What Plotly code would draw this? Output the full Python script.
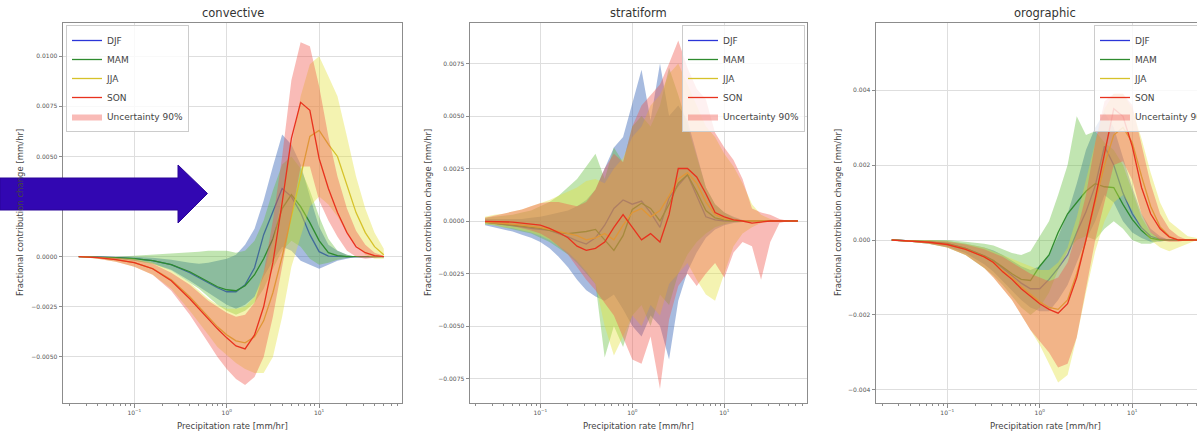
import plotly.graph_objects as go

# ---------------- DATA (values in 1e-3 mm/hr) ----------------
seasons = ["DJF", "MAM", "JJA", "SON"]
panel_titles = ["convective", "stratiform", "orographic"]
x_label = "Precipitation rate [mm/hr]"
y_label = "Fractional contribution change [mm/hr]"
x_tick_vals = [0.1, 1, 10]
x_tick_text = ["10<sup>−1</sup>", "10<sup>0</sup>", "10<sup>1</sup>"]
band_label = "Uncertainty 90%"

# convective
conv_x = [0.025, 0.04, 0.063, 0.1, 0.158, 0.251, 0.398, 0.501, 0.631, 0.794, 1.0, 1.26, 1.58, 2.0,
          2.51, 3.16, 3.98, 5.01, 6.31, 7.94, 10.0, 12.6, 15.8, 20.0, 25.1, 31.6, 39.8, 50.1]
conv_djf = [0, -0.02, -0.05, -0.1, -0.2, -0.4, -0.8, -1.05, -1.3, -1.55, -1.75, -1.75, -1.4, -0.55,
            1.1, 2.3, 3.4, 3.0, 2.2, 1.1, 0.25, 0.03, 0, 0, 0, 0, 0, 0]
conv_djf_lo = [0, -0.05, -0.1, -0.2, -0.35, -0.65, -1.2, -1.5, -1.8, -2.1, -2.4, -2.6, -2.4, -2.0,
               -1.0, -0.2, 0.5, 0.3, -0.2, -0.4, -0.6, -0.4, -0.2, -0.1, 0, 0, 0, 0]
conv_djf_hi = [0, 0, 0, 0, -0.05, -0.15, -0.3, -0.35, -0.3, -0.2, -0.1, 0.1, 0.6, 1.4,
               2.8, 4.5, 6.1, 5.6, 4.6, 3.0, 1.5, 0.6, 0.3, 0.1, 0, 0, 0, 0]
conv_mam = [0, -0.02, -0.05, -0.1, -0.2, -0.4, -0.75, -1.0, -1.25, -1.5, -1.65, -1.7, -1.45, -0.9,
            -0.1, 0.9, 2.4, 3.1, 2.5, 1.7, 0.8, 0.2, 0.05, 0, 0, 0, 0, 0]
conv_mam_lo = [0, -0.04, -0.1, -0.2, -0.35, -0.7, -1.3, -1.6, -2.0, -2.4, -2.7, -2.9, -2.7, -2.3,
               -1.6, -0.6, 0.3, 0.8, 0.5, -0.1, -0.4, -0.3, -0.15, -0.05, 0, 0, 0, 0]
conv_mam_hi = [0, 0, 0, 0.05, 0.1, 0.15, 0.2, 0.25, 0.3, 0.3, 0.3, 0.2, 0.3, 0.8,
               1.8, 3.3, 4.6, 5.0, 4.4, 3.3, 2.0, 0.9, 0.3, 0.1, 0, 0, 0, 0]
conv_jja = [0, -0.05, -0.15, -0.3, -0.6, -1.15, -2.0, -2.5, -3.0, -3.5, -3.9, -4.2, -4.3, -4.0,
            -3.2, -1.8, 0.0, 2.0, 4.0, 6.0, 6.3, 5.6, 5.0, 3.6, 2.2, 1.2, 0.5, 0.1]
conv_jja_lo = [0, -0.1, -0.25, -0.5, -0.9, -1.6, -2.7, -3.3, -3.9, -4.5, -4.9, -5.3, -5.6, -5.8,
               -5.8, -5.0, -3.0, -0.5, 1.0, 2.5, 3.0, 2.6, 2.0, 1.2, 0.6, 0.1, -0.1, -0.1]
conv_jja_hi = [0, 0, -0.05, -0.1, -0.3, -0.7, -1.3, -1.7, -2.1, -2.4, -2.6, -2.6, -2.5, -2.0,
               -0.8, 0.8, 3.0, 5.5, 8.0, 9.6, 10.0, 9.0, 8.0, 6.0, 4.0, 2.4, 1.2, 0.4]
conv_son = [0, -0.05, -0.15, -0.3, -0.6, -1.2, -2.1, -2.6, -3.15, -3.6, -4.05, -4.45, -4.6, -3.9,
            -2.5, -0.3, 2.7, 5.9, 7.7, 7.3, 4.9, 3.4, 2.2, 1.2, 0.5, 0.2, 0.05, 0]
conv_son_lo = [0, -0.1, -0.25, -0.5, -0.9, -1.7, -2.9, -3.6, -4.3, -5.0, -5.6, -6.1, -6.4, -6.0,
               -5.0, -3.0, -0.5, 2.0, 4.5, 4.5, 2.8, 1.8, 1.0, 0.3, 0.0, -0.1, -0.05, 0]
conv_son_hi = [0, 0, -0.05, -0.15, -0.35, -0.8, -1.4, -1.8, -2.2, -2.5, -2.8, -3.0, -2.9, -2.3,
               -0.8, 1.8, 5.0, 8.8, 10.7, 10.5, 8.5, 6.0, 4.0, 2.4, 1.3, 0.6, 0.2, 0.05]

# stratiform
strat_x = [0.0251, 0.0316, 0.0398, 0.0501, 0.0631, 0.0794, 0.1, 0.126, 0.158, 0.2, 0.251, 0.316,
           0.398, 0.501, 0.631, 0.794, 1.0, 1.26, 1.58, 2.0, 2.51, 3.16, 3.98, 5.01, 6.31, 7.94,
           10.0, 12.6, 15.8, 20.0, 25.1, 31.6, 39.8, 50.1, 63.1]
strat_djf = [-0.05, -0.1, -0.15, -0.2, -0.28, -0.35, -0.4, -0.45, -0.6, -0.75,
             -0.95, -1.1, -0.8, -0.2, 0.6, 1.0, 0.8, 0.95, 0.4, -0.3,
             1.1, 1.7, 2.2, 1.2, 0.2, 0.05, 0, 0, 0, 0,
             0, 0, 0, 0, 0]
strat_djf_lo = [-0.2, -0.3, -0.4, -0.5, -0.65, -0.8, -1.0, -1.3, -1.7, -2.2,
                -2.8, -3.3, -3.6, -3.8, -3.5, -4.2, -5.0, -5.5, -4.5, -5.0,
                -6.6, -3.8, -2.4, -1.5, -0.8, -0.4, -0.2, -0.1, -0.05, 0,
                0, 0, 0, 0, 0]
strat_djf_hi = [0.1, 0.1, 0.1, 0.1, 0.1, 0.15, 0.2, 0.3, 0.4, 0.5,
                0.7, 1.0, 1.5, 2.5, 3.5, 4.0, 5.6, 7.2, 4.8, 7.5,
                5.0, 5.5, 4.8, 3.2, 1.6, 0.8, 0.4, 0.2, 0.05, 0,
                0, 0, 0, 0, 0]
strat_mam = [-0.05, -0.1, -0.12, -0.18, -0.25, -0.3, -0.35, -0.45, -0.55, -0.6,
             -0.55, -0.5, -0.4, -0.9, -1.4, -0.7, 0.55, 0.85, 0.6, 0.0,
             0.8, 1.8, 2.2, 1.4, 0.5, 0.15, 0.05, 0, 0, 0,
             0, 0, 0, 0, 0]
strat_mam_lo = [-0.15, -0.2, -0.3, -0.4, -0.5, -0.6, -0.8, -1.0, -1.3, -1.6,
                -2.0, -2.5, -3.0, -6.5, -5.0, -6.0, -4.5, -4.0, -5.0, -3.5,
                -4.0, -2.5, -1.6, -1.0, -0.6, -0.3, -0.15, -0.05, 0, 0,
                0, 0, 0, 0, 0]
strat_mam_hi = [0.15, 0.2, 0.25, 0.3, 0.4, 0.5, 0.7, 0.9, 1.2, 1.6,
                2.0, 2.6, 3.2, 2.0, 3.5, 2.8, 4.5, 5.0, 4.5, 5.5,
                7.3, 6.0, 4.5, 3.0, 1.6, 0.8, 0.4, 0.15, 0, 0,
                0, 0, 0, 0, 0]
strat_jja = [-0.05, -0.08, -0.1, -0.15, -0.2, -0.25, -0.3, -0.4, -0.5, -0.6,
             -0.7, -0.9, -0.8, -0.6, -0.9, -0.2, 0.4, 0.6, 0.2, 0.5,
             1.2, 2.0, 2.3, 1.8, 0.9, 0.3, 0.1, 0.05, 0, 0,
             0, 0, 0, 0, 0]
strat_jja_lo = [-0.15, -0.2, -0.3, -0.35, -0.45, -0.55, -0.7, -0.9, -1.2, -1.5,
                -1.9, -2.4, -3.0, -5.0, -6.4, -5.5, -4.5, -5.0, -4.0, -4.5,
                -3.0, -2.5, -2.0, -2.8, -3.5, -3.8, -2.5, -1.2, -0.6, -0.3,
                -0.1, 0, 0, 0, 0]
strat_jja_hi = [0.2, 0.3, 0.35, 0.45, 0.55, 0.7, 0.85, 1.0, 1.2, 1.4,
                1.6, 1.9, 2.0, 1.8, 2.5, 3.0, 4.0, 4.5, 5.5, 6.0,
                7.0, 7.5, 6.5, 5.5, 4.5, 4.0, 3.2, 2.6, 1.8, 0.8,
                0.3, 0.1, 0, 0, 0]
strat_son = [-0.02, -0.03, -0.05, -0.05, -0.1, -0.15, -0.2, -0.35, -0.55, -0.8,
             -1.2, -1.4, -1.3, -1.0, -0.3, 0.3, -0.3, -0.9, -0.6, -1.0,
             0.3, 2.5, 2.5, 2.1, 1.3, 0.4, 0.2, 0.05, 0, -0.1,
             -0.05, 0, 0, 0, 0]
strat_son_lo = [-0.1, -0.15, -0.2, -0.25, -0.35, -0.45, -0.6, -0.85, -1.2, -1.6,
                -2.2, -2.8, -3.3, -3.9, -4.5, -5.5, -6.6, -6.8, -5.5, -8.0,
                -4.7, -3.1, -2.5, -3.1, -2.5, -2.0, -2.7, -1.5, -1.0, -1.2,
                -2.8, -1.0, -0.1, 0, 0]
strat_son_hi = [0.15, 0.25, 0.35, 0.45, 0.55, 0.7, 0.85, 0.9, 0.9, 0.8,
                0.7, 0.9, 1.5, 2.5, 3.2, 2.8, 4.5, 5.5, 6.0, 6.5,
                7.5, 8.6, 7.3, 6.3, 5.8, 4.2, 3.5, 2.9, 2.0, 0.6,
                0.4, 0.3, 0.1, 0, 0]

# orographic
oro_x = [0.0251, 0.0398, 0.0631, 0.1, 0.158, 0.251, 0.316, 0.398, 0.501, 0.631, 0.794, 1.0,
         1.26, 1.58, 2.0, 2.51, 3.16, 3.98, 5.01, 6.31, 7.94, 10.0, 12.6, 15.8, 20.0, 25.1,
         31.6, 39.8, 50.1, 63.1]
oro_djf = [0, -0.02, -0.05, -0.1, -0.22, -0.42, -0.55, -0.75, -0.95, -1.15, -1.3, -1.3,
           -1.05, -0.75, -0.4, 0.2, 0.75, 1.45, 2.5, 2.0, 1.25, 0.7, 0.33, 0.1, 0.02, 0,
           0, 0, 0, 0]
oro_djf_lo = [0, -0.05, -0.1, -0.18, -0.35, -0.65, -0.85, -1.1, -1.35, -1.6, -1.8, -1.9,
              -1.9, -1.6, -1.2, -0.6, 0.0, 0.5, 1.2, 1.0, 0.5, 0.2, 0.05, -0.05, -0.05, 0,
              0, 0, 0, 0]
oro_djf_hi = [0, 0, 0, -0.03, -0.1, -0.2, -0.28, -0.4, -0.55, -0.7, -0.8, -0.7,
              -0.4, 0.1, 0.7, 1.5, 2.4, 3.0, 3.4, 3.0, 2.2, 1.4, 0.7, 0.3, 0.1, 0,
              0, 0, 0, 0]
oro_mam = [0, -0.02, -0.05, -0.1, -0.22, -0.42, -0.55, -0.72, -0.9, -1.05, -1.08, -0.7,
           -0.4, 0.2, 0.7, 1.0, 1.3, 1.5, 1.42, 1.4, 0.95, 0.55, 0.25, 0.05, 0, 0,
           0, 0, 0, 0]
oro_mam_lo = [0, -0.05, -0.1, -0.2, -0.4, -0.75, -0.95, -1.2, -1.5, -1.8, -2.0, -1.8,
              -1.4, -0.8, -0.3, 0.0, 0.1, 0.0, 0.3, 0.5, 0.3, 0.0, -0.1, -0.1, 0, 0,
              0, 0, 0, 0]
oro_mam_hi = [0, 0, 0, 0, -0.05, -0.1, -0.15, -0.25, -0.35, -0.4, -0.3, 0.1,
              0.5, 1.2, 2.0, 3.3, 2.8, 2.9, 2.6, 2.4, 2.0, 1.3, 0.6, 0.2, 0.05, 0,
              0, 0, 0, 0]
oro_jja = [0, -0.02, -0.06, -0.12, -0.25, -0.45, -0.6, -0.82, -1.0, -1.25, -1.45, -1.65,
           -1.8, -1.85, -1.6, -0.9, 0.0, 1.0, 2.0, 2.8, 3.0, 2.6, 1.7, 0.9, 0.35, 0.1,
           0, 0, 0, 0]
oro_jja_lo = [0, -0.05, -0.1, -0.2, -0.4, -0.75, -1.0, -1.3, -1.6, -2.0, -2.4, -2.8,
              -3.3, -3.8, -3.6, -2.6, -1.4, -0.3, 0.5, 1.0, 1.2, 0.8, 0.3, 0.0, -0.2, -0.3,
              -0.2, -0.1, 0, 0]
oro_jja_hi = [0, 0, 0, -0.03, -0.1, -0.2, -0.3, -0.4, -0.5, -0.6, -0.7, -0.8,
              -0.8, -0.6, -0.2, 0.6, 1.6, 2.6, 3.5, 3.9, 3.9, 3.5, 2.7, 1.8, 1.0, 0.5,
              0.3, 0.1, 0.05, 0]
oro_son = [0, -0.02, -0.06, -0.12, -0.25, -0.45, -0.6, -0.85, -1.05, -1.3, -1.5, -1.7,
           -1.85, -1.95, -1.7, -1.0, 0.0, 1.1, 2.3, 3.5, 3.3, 2.5, 1.4, 0.7, 0.3, 0.08,
           0, 0, 0, 0]
oro_son_lo = [0, -0.05, -0.1, -0.2, -0.4, -0.75, -1.0, -1.3, -1.6, -2.0, -2.4, -2.7,
              -3.0, -3.4, -3.3, -2.6, -1.3, 0.0, 1.0, 2.0, 2.1, 1.6, 0.7, 0.2, 0.0, -0.05,
              -0.05, 0, 0, 0]
oro_son_hi = [0, 0, -0.02, -0.05, -0.12, -0.25, -0.35, -0.45, -0.6, -0.75, -0.9, -1.0,
              -1.1, -1.0, -0.6, 0.2, 1.2, 2.6, 3.7, 3.9, 3.9, 3.6, 2.5, 1.5, 0.7, 0.3,
              0.1, 0, 0, 0]

UNIT = 1e-3  # values above are in 1e-3 mm/hr

# ---------------- STYLE ----------------
W, H = 1197, 435
line_colors = {"DJF": "#2b35d8", "MAM": "#2e8b2e", "JJA": "#d6c22a", "SON": "#e8321e"}
band_colors = {"DJF": "rgba(60,105,185,0.45)", "MAM": "rgba(100,190,60,0.40)",
               "JJA": "rgba(228,224,60,0.40)", "SON": "rgba(240,85,75,0.40)"}
FRAME = "#8c8c8c"
GRID = "#dedede"


def px(v):
    return v / W


def py(v):
    return 1 - v / H


panels = [
    dict(x=conv_x, data={"DJF": (conv_djf, conv_djf_lo, conv_djf_hi),
                         "MAM": (conv_mam, conv_mam_lo, conv_mam_hi),
                         "JJA": (conv_jja, conv_jja_lo, conv_jja_hi),
                         "SON": (conv_son, conv_son_lo, conv_son_hi)}),
    dict(x=strat_x, data={"DJF": (strat_djf, strat_djf_lo, strat_djf_hi),
                          "MAM": (strat_mam, strat_mam_lo, strat_mam_hi),
                          "JJA": (strat_jja, strat_jja_lo, strat_jja_hi),
                          "SON": (strat_son, strat_son_lo, strat_son_hi)}),
    dict(x=oro_x, data={"DJF": (oro_djf, oro_djf_lo, oro_djf_hi),
                        "MAM": (oro_mam, oro_mam_lo, oro_mam_hi),
                        "JJA": (oro_jja, oro_jja_lo, oro_jja_hi),
                        "SON": (oro_son, oro_son_lo, oro_son_hi)}),
]

fig = go.Figure()
for i, p in enumerate(panels):
    sfx = "" if i == 0 else str(i + 1)
    leg = "legend" + sfx
    xs = p["x"]
    for rank, s in enumerate(seasons):
        mean, lo, hi = p["data"][s]
        mean = [v * UNIT for v in mean]
        lo = [v * UNIT for v in lo]
        hi = [v * UNIT for v in hi]
        fig.add_trace(go.Scatter(
            x=xs + xs[::-1], y=hi + lo[::-1], fill="toself", fillcolor=band_colors[s],
            line=dict(width=0), mode="lines", hoverinfo="skip",
            name=band_label, showlegend=(s == "SON"), legendrank=10,
            xaxis="x" + sfx, yaxis="y" + sfx, legend=leg))
        fig.add_trace(go.Scatter(
            x=xs, y=mean, mode="lines", line=dict(color=line_colors[s], width=1.3),
            name=s, legendrank=rank + 1, xaxis="x" + sfx, yaxis="y" + sfx, legend=leg))

x_domains = [[px(63), px(402)], [px(470), px(807)], [px(876), 1.0]]
x_ranges = [[-1.772, 1.897], [-1.764, 1.899], [-1.77, 1.70]]
y_ranges = [[-0.0073, 0.01166], [-0.008667, 0.009429], [-0.004347, 0.005787]]
y_dticks = [0.0025, 0.0025, 0.002]
y_formats = [".4f", ".4f", ".3f"]
y_dom = [py(403), py(23)]

layout = dict(
    width=W, height=H,
    margin=dict(l=0, r=0, t=0, b=0, autoexpand=False),
    paper_bgcolor="white", plot_bgcolor="white",
    font=dict(family="DejaVu Sans", color="#444"),
)
for i in range(3):
    sfx = "" if i == 0 else str(i + 1)
    layout["xaxis" + sfx] = dict(
        type="log", domain=x_domains[i], range=x_ranges[i], anchor="y" + sfx,
        showline=True, linecolor=FRAME, linewidth=1, mirror=True,
        ticks="outside", ticklen=3.5, tickcolor=FRAME, tickwidth=1,
        tickmode="array", tickvals=x_tick_vals, ticktext=x_tick_text,
        tickfont=dict(size=6, color="#555"),
        showgrid=True, gridcolor=GRID, gridwidth=1, zeroline=False,
        minor=dict(ticks="outside", ticklen=2, tickcolor=FRAME, dtick="D1", showgrid=False),
    )
    layout["yaxis" + sfx] = dict(
        domain=y_dom, range=y_ranges[i], anchor="x" + sfx,
        showline=True, linecolor=FRAME, linewidth=1, mirror=(i < 2),
        ticks="outside", ticklen=3.5, tickcolor=FRAME, tickwidth=1,
        tick0=0, dtick=y_dticks[i], tickformat=y_formats[i],
        tickfont=dict(size=6, color="#555"),
        showgrid=True, gridcolor=GRID, gridwidth=1, zeroline=False,
    )

leg_common = dict(yanchor="top", y=py(25), bgcolor="rgba(255,255,255,0.8)",
                  bordercolor="#cccccc", borderwidth=1, font=dict(size=9, color="#444"),
                  itemwidth=30, tracegroupgap=0, traceorder="normal")
layout["legend"] = dict(x=px(66), xanchor="left", **leg_common)
layout["legend2"] = dict(x=px(805), xanchor="right", **leg_common)
layout["legend3"] = dict(x=px(1094), xanchor="left", **leg_common)

annotations = []
title_centers = [232.5, 638.5, 1045]
ylab_x = [20, 428, 838]
for i in range(3):
    annotations.append(dict(text=panel_titles[i], x=px(title_centers[i]), y=py(13),
                            xref="paper", yref="paper", showarrow=False,
                            font=dict(size=11.5, color="#333"), xanchor="center", yanchor="middle"))
    annotations.append(dict(text=x_label, x=px(title_centers[i]), y=py(426),
                            xref="paper", yref="paper", showarrow=False,
                            font=dict(size=8.5, color="#444"), xanchor="center", yanchor="middle"))
    annotations.append(dict(text=y_label, x=px(ylab_x[i]), y=py(213), textangle=-90,
                            xref="paper", yref="paper", showarrow=False,
                            font=dict(size=8.5, color="#444"), xanchor="center", yanchor="middle"))
layout["annotations"] = annotations

# overlaid arrow
arrow_pts = [(0, 178), (178, 178), (178, 165), (207.5, 193.5), (178, 223), (178, 210), (0, 210)]
path = "M " + " L ".join(f"{px(a):.5f},{py(b):.5f}" for a, b in arrow_pts) + " Z"
layout["shapes"] = [dict(type="path", path=path, xref="paper", yref="paper",
                         fillcolor="#3207b2", line=dict(color="#2a0598", width=1), layer="above")]

fig.update_layout(layout)
fig.write_html("out.html")
